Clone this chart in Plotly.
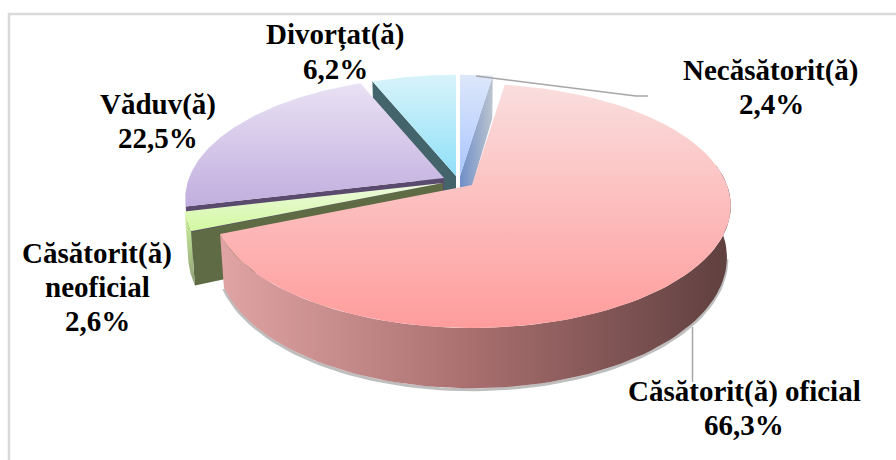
import numpy as np
import plotly.graph_objects as go

categories = ["Necăsătorit(ă)", "Căsătorit(ă) oficial", "Căsătorit(ă) neoficial", "Văduv(ă)", "Divorțat(ă)"]
values = [2.4, 66.3, 2.6, 22.5, 6.2]
label_lines = [["Necăsătorit(ă)"], ["Căsătorit(ă) oficial"], ["Căsătorit(ă)", "neoficial"], ["Văduv(ă)"], ["Divorțat(ă)"]]

# 3D projection parameters (pixel space)
RX, RY, K, DEPTH, BOTTOM_X = 255.0, 118.5, 0.171, 50.0, 0.985
apex = [(460, 176), (472, 185), (443, 183), (444, 178), (456, 176)]
label_pos = [(771, 87), (744, 408), (97, 287), (158, 121), (335, 52)]
LINE_H = 33.5

top_colors = [("#dde7fa", "#aac6ff"), ("#fadede", "#ff9c9c"), ("#eefadf", "#d2f8a0"),
              ("#e9e1f4", "#c1aede"), ("#d8f3fa", "#8fe0f8")]


def proj(theta_deg, ax, ay, lower=False):
    t = np.radians(theta_deg)
    X, Y = np.sin(t), -np.cos(t)
    s = 1 / (1 - K * Y)
    if lower:
        return ax + BOTTOM_X * RX * X * s, ay + RY * Y * s + DEPTH * s
    return ax + RX * X * s, ay + RY * Y * s


def arc(a0, a1, ax, ay, lower=False):
    th = np.linspace(a0, a1, 90)
    return proj(th, ax, ay, lower)


def grad(kind, c0, c1, c2=None):
    if c2:
        scale = [[0, c0], [0.5, c1], [1, c2]]
    else:
        scale = [[0, c0], [1, c1]]
    return dict(type=kind, colorscale=scale)


fig = go.Figure()


def poly(x, y, gradient=None, color=None):
    kw = dict(fillgradient=gradient) if gradient else dict(fillcolor=color)
    fig.add_trace(go.Scatter(x=list(x), y=list(y), mode="lines", fill="toself",
                             line=dict(width=0), hoverinfo="skip", showlegend=False, **kw))


def top(i, a0, a1):
    ax, ay = apex[i]
    x, y = arc(a0, a1, ax, ay)
    # the y axis is reversed, so the colour scale runs bottom-of-picture first
    poly(np.r_[ax, x, ax], np.r_[ay, y, ay], gradient=grad("vertical", top_colors[i][1], top_colors[i][0]))


def radial_wall(i, a, gradient=None, color=None):
    ax, ay = apex[i]
    px, py = proj(a, ax, ay)
    qx, qy = proj(a, ax, ay, lower=True)
    poly([ax, px, qx, ax, ax], [ay, py, qy, ay + DEPTH, ay], gradient=gradient, color=color)


def rim_wall(i, a0, a1, gradient=None, color=None):
    ax, ay = apex[i]
    x0, y0 = arc(a0, a1, ax, ay)
    x1, y1 = arc(a0, a1, ax, ay, lower=True)
    poly(np.r_[x0, x1[::-1], x0[0]], np.r_[y0, y1[::-1], y0[0]], gradient=gradient, color=color)


edges = np.r_[0, np.cumsum(values)] * 3.6 / (sum(values) / 100)
a = [(edges[i], edges[i + 1]) for i in range(5)]

# Back to front
radial_wall(4, a[4][0], color="#44646c")
top(4, *a[4])
radial_wall(0, a[0][0], color="#9a9a9a")
radial_wall(0, a[0][1], gradient=grad("horizontal", "#6f8fc8", "#bcc4cf"))
top(0, *a[0])
radial_wall(3, a[3][0], color="#5a4a6e")
top(3, *a[3])
radial_wall(2, a[2][0], color="#5f6b44")
rim_wall(2, a[2][0], a[2][1], gradient=grad("vertical", "#8c9c74", "#d2f8a0"))
top(2, *a[2])

# Soft shadow below the big slice
ax1, ay1 = apex[1]
sx, sy = arc(100, a[1][1], ax1, ay1 + 1.5, lower=True)
fig.add_trace(go.Scatter(x=sx, y=sy, mode="lines", line=dict(width=3, color="rgba(110,110,110,0.45)"),
                         hoverinfo="skip", showlegend=False))
rim_wall(1, 80, a[1][1], gradient=grad("horizontal", "#e0a4a4", "#a86e6e", "#5f3f3f"))
top(1, *a[1])

annotations = []
for i, lines in enumerate(label_lines):
    pct = f"{values[i]:.1f}%".replace(".", ",")
    rows = lines + [pct]
    for j, row in enumerate(rows):
        annotations.append(dict(x=label_pos[i][0], y=label_pos[i][1] + (j - (len(rows) - 1) / 2) * LINE_H,
                                xref="x", yref="y", showarrow=False, text="<b>" + row + "</b>", align="center",
                                font=dict(family="Liberation Serif", size=29, color="black")))

LEADER = "#a6a6a6"
shapes = [
    dict(type="rect", x0=9, y0=14, x1=910, y1=480, line=dict(color="#d9d9d9", width=2.5), layer="below"),
    dict(type="path", path="M 476 76 L 636 96 L 648 96", line=dict(color=LEADER, width=1.5), layer="above"),
    dict(type="line", x0=692.5, y0=327, x1=692.5, y1=382, line=dict(color=LEADER, width=1.5), layer="above"),
]

fig.update_layout(
    width=896, height=460, autosize=False, margin=dict(l=0, r=0, t=0, b=0),
    paper_bgcolor="white", plot_bgcolor="white", showlegend=False,
    xaxis=dict(range=[0, 896], visible=False, fixedrange=True),
    yaxis=dict(range=[460, 0], visible=False, fixedrange=True),
    annotations=annotations, shapes=shapes,
)
fig.write_html("out.html", config={"displayModeBar": False},
               post_script="document.body.style.margin='0';document.body.style.overflow='hidden';")
